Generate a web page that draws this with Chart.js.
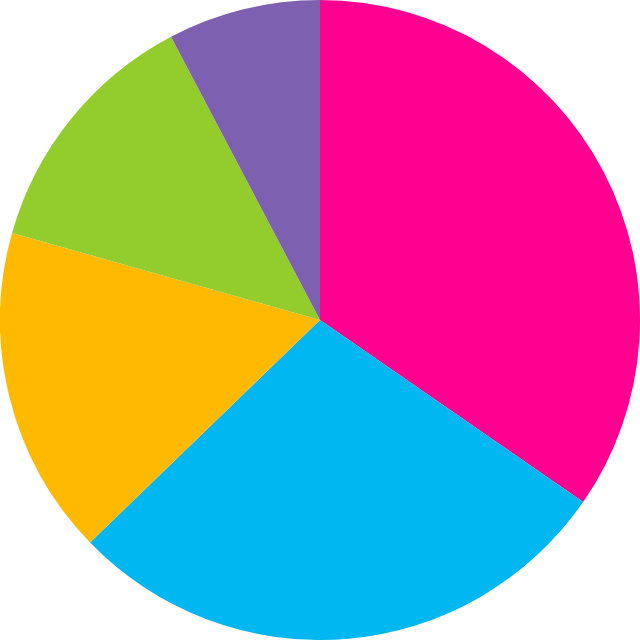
<!DOCTYPE html>
<html>
<head>
<meta charset="utf-8">
<script src="https://cdn.jsdelivr.net/npm/chart.js@4/dist/chart.umd.min.js"></script>
<style>
  html, body { margin: 0; padding: 0; background: #fff; }
  #wrap { width: 640px; height: 640px; }
</style>
</head>
<body>
<div id="wrap"><canvas id="pie"></canvas></div>
<script>
const categories = ["A", "B", "C", "D", "E"];
const values = [34.6, 28.1, 16.6, 12.9, 7.7];
const colors = ["#FF0090", "#00B7F1", "#FFBA00", "#93CD2D", "#7E60B0"];

new Chart(document.getElementById("pie"), {
  type: "pie",
  data: {
    labels: categories,
    datasets: [{ data: values, backgroundColor: colors, borderWidth: 0 }]
  },
  options: {
    responsive: true,
    maintainAspectRatio: false,
    animation: false,
    layout: { padding: 0 },
    plugins: { legend: { display: false }, tooltip: { enabled: false } }
  }
});
</script>
</body>
</html>
